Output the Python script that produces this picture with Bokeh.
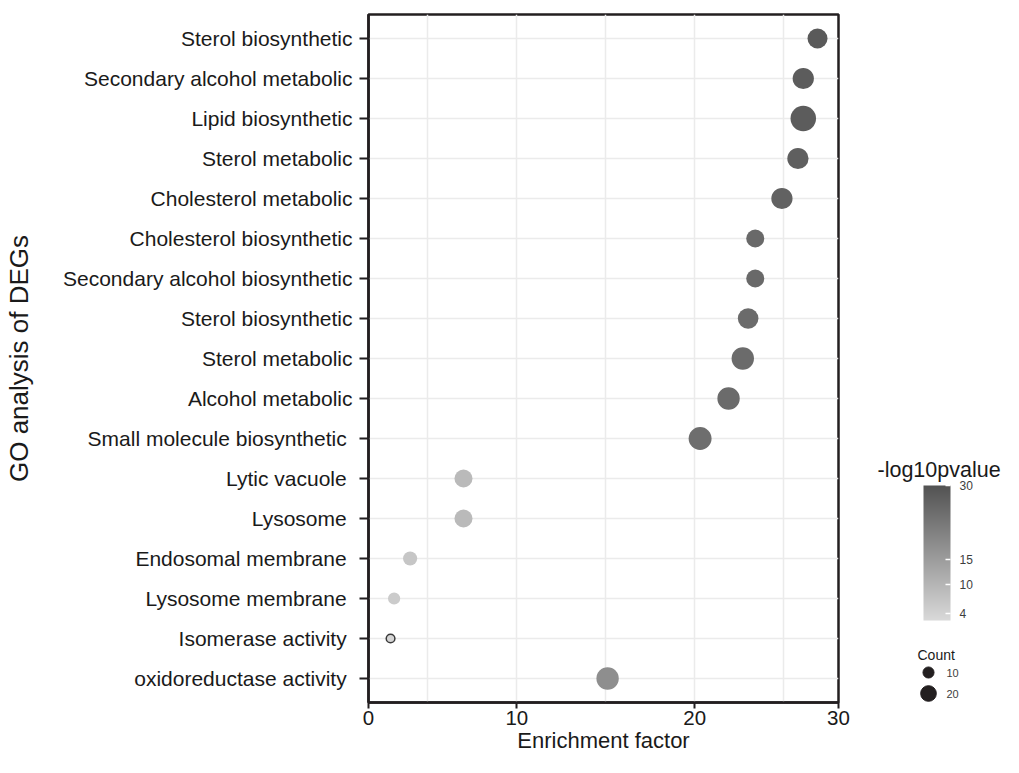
import numpy as np
from bokeh.plotting import figure
from bokeh.models import (ColumnDataSource, Range1d, FixedTicker, CustomJSTickFormatter,
                          LinearColorMapper, ColorBar)
from bokeh.layouts import row
from bokeh.embed import file_html
from bokeh.resources import INLINE
from bokeh.core.properties import value

# ---------------- data ----------------
categories = [
    "Sterol biosynthetic",
    "Secondary alcohol metabolic",
    "Lipid biosynthetic",
    "Sterol metabolic",
    "Cholesterol metabolic",
    "Cholesterol biosynthetic",
    "Secondary alcohol biosynthetic",
    "Sterol biosynthetic",
    "Sterol metabolic",
    "Alcohol metabolic",
    "Small molecule biosynthetic\u00a0",
    "Lytic vacuole\u00a0",
    "Lysosome\u00a0",
    "Endosomal membrane\u00a0",
    "Lysosome membrane\u00a0",
    "Isomerase activity\u00a0",
    "oxidoreductase activity\u00a0",
]
enrichment = [26.9, 26.1, 26.1, 25.8, 24.9, 23.4, 23.4, 23.0, 22.7, 21.9,
              20.3, 7.0, 7.0, 4.0, 3.1, 2.9, 15.1]
counts = [16, 18, 26, 18, 18, 13, 13, 17, 20, 20, 21, 13, 13, 8, 6, 3, 20]
neglog10p = [28.5, 28, 28, 27.5, 27, 25.5, 25.5, 25, 25, 25, 24.5,
             9, 9, 6.5, 5.5, 3.5, 18]

x_ticks = [1.66, 10, 20, 28.08]
x_tick_labels = ["0", "10", "20", "30"]
x_grid = [5, 10, 15, 20, 25]
cbar_ticks = [4, 10, 15, 30]
cbar_low, cbar_high = 2.6, 30
count_breaks = [10, 20]

# ---------------- style ----------------
FONT = "Liberation Sans"
DARK = "#231f20"
TXT = "#1a1a1a"
GRID = "#ebebeb"
SIZE_K = 5.0        # point diameter = SIZE_K * sqrt(count)
LEG_SIZE_K = 3.5    # legend circle diameter

W_MAIN, W_LEG, H = 850, 153, 757
FR_LEFT, FR_RIGHT, FR_TOP, FR_BOTTOM = 367, 838, 14, 702

n = len(categories)
ypos = [n - 1 - i for i in range(n)]

lo = np.array([217, 217, 217])
hi = np.array([83, 83, 83])
palette = ["#%02x%02x%02x" % tuple(int(round(c)) for c in lo + (hi - lo) * t)
           for t in np.linspace(0, 1, 256)]
mapper = LinearColorMapper(palette=palette, low=cbar_low, high=cbar_high)

cmin = min(counts)
src = ColumnDataSource(dict(
    x=enrichment, y=ypos, logp=neglog10p, count=counts,
    size=[SIZE_K * np.sqrt(c) for c in counts],
    la=[1.0 if c == cmin else 0.0 for c in counts],
))

# ---------------- main plot ----------------
p = figure(width=W_MAIN, height=H,
           x_range=Range1d(x_ticks[0], x_ticks[-1]),
           y_range=Range1d(-0.6, n - 1 + 0.6),
           toolbar_location=None, output_backend="svg", title=None,
           min_border_left=FR_LEFT, min_border_right=W_MAIN - FR_RIGHT,
           min_border_top=FR_TOP, min_border_bottom=H - FR_BOTTOM)
p.background_fill_color = "white"
p.border_fill_color = "white"
p.outline_line_color = DARK
p.outline_line_width = 2.5
p.outline_line_alpha = 1.0

p.scatter("x", "y", source=src, size="size",
          fill_color={"field": "logp", "transform": mapper},
          line_color="#3a3a3a", line_alpha="la", line_width=1.5)

# x axis
xa = p.xaxis[0]
xa.ticker = FixedTicker(ticks=x_ticks)
xa.formatter = CustomJSTickFormatter(
    args=dict(tks=x_ticks, lbls=x_tick_labels),
    code="""
const i = tks.findIndex(t => Math.abs(t - tick) < 1e-6);
return i >= 0 ? lbls[i] : '';
""")
xa.major_tick_out = 6
xa.major_tick_in = 0
xa.minor_tick_line_color = None
xa.major_tick_line_color = DARK
xa.major_tick_line_width = 2
xa.axis_line_color = DARK
xa.axis_line_width = 2.5
xa.major_label_standoff = 2
xa.major_label_text_font = FONT
xa.major_label_text_font_size = "20.5px"
xa.major_label_text_color = TXT
xa.axis_label = "Enrichment factor"
xa.axis_label_text_font = FONT
xa.axis_label_text_font_size = "22px"
xa.axis_label_text_font_style = "normal"
xa.axis_label_text_color = TXT
xa.axis_label_standoff = 0

# y axis
ya = p.yaxis[0]
ya.ticker = FixedTicker(ticks=ypos)
ya.formatter = CustomJSTickFormatter(
    args=dict(cats=categories, ncat=n),
    code="""
const i = Math.round(ncat - 1 - tick);
return (i >= 0 && i < ncat) ? cats[i] : '';
""")
ya.major_tick_out = 9
ya.major_tick_in = 0
ya.minor_tick_line_color = None
ya.major_tick_line_color = DARK
ya.major_tick_line_width = 2
ya.axis_line_color = DARK
ya.axis_line_width = 2.5
ya.major_label_standoff = 7
ya.major_label_text_font = FONT
ya.major_label_text_font_size = "21px"
ya.major_label_text_color = TXT
ya.axis_label = "GO analysis of DEGs"
ya.axis_label_text_font = FONT
ya.axis_label_text_font_size = "26px"
ya.axis_label_text_font_style = "normal"
ya.axis_label_text_color = TXT
ya.axis_label_standoff = 26

p.xgrid.ticker = FixedTicker(ticks=x_grid)
p.ygrid.ticker = FixedTicker(ticks=ypos)
for g in (p.xgrid[0], p.ygrid[0]):
    g.grid_line_color = GRID
    g.grid_line_width = 1.5

# ---------------- legend panel (frame aligned with the main frame) ----------------
p2 = figure(width=W_LEG, height=H,
            x_range=Range1d(W_MAIN, W_MAIN + W_LEG), y_range=Range1d(FR_BOTTOM, FR_TOP),
            toolbar_location=None, output_backend="svg", title=None,
            min_border_left=0, min_border_right=0,
            min_border_top=FR_TOP, min_border_bottom=H - FR_BOTTOM,
            x_axis_location=None, y_axis_location=None)
p2.outline_line_color = None
p2.grid.visible = False
p2.background_fill_color = "white"
p2.border_fill_color = "white"

p2.text(x=[W_MAIN + 27], y=[469], text=["-log10pvalue"], text_font=value(FONT),
        text_font_size="21.5px", text_color=TXT, text_baseline="alphabetic")

bar_left, bar_bottom = 923, 620
cb = ColorBar(color_mapper=mapper, ticker=FixedTicker(ticks=cbar_ticks),
              width=27, height=135,
              location=(bar_left - W_MAIN, FR_BOTTOM - bar_bottom),
              padding=0, margin=0,
              major_label_text_font=FONT, major_label_text_font_size="12px",
              major_label_text_color="#3d3d3d",
              major_tick_line_color="white", major_tick_in=5, major_tick_out=0,
              major_tick_line_width=1.5, minor_tick_line_color=None,
              label_standoff=9, bar_line_color=None,
              background_fill_color=None, border_line_color=None)
p2.add_layout(cb, "center")

p2.text(x=[917], y=[654], text=["Count"], text_font=value(FONT),
        text_font_size="14px", text_color=TXT, text_baseline="alphabetic")
leg_y = [672 + 21 * i for i in range(len(count_breaks))]
p2.scatter(x=[928] * len(count_breaks), y=leg_y,
           size=[LEG_SIZE_K * np.sqrt(c) for c in count_breaks],
           fill_color=DARK, line_color=DARK)
p2.text(x=[946] * len(count_breaks), y=leg_y, text=[str(c) for c in count_breaks],
        text_font=value(FONT), text_font_size="11px", text_color="#3d3d3d",
        text_baseline="middle")

layout = row(p, p2)
open("out.html", "w").write(file_html(layout, INLINE))
